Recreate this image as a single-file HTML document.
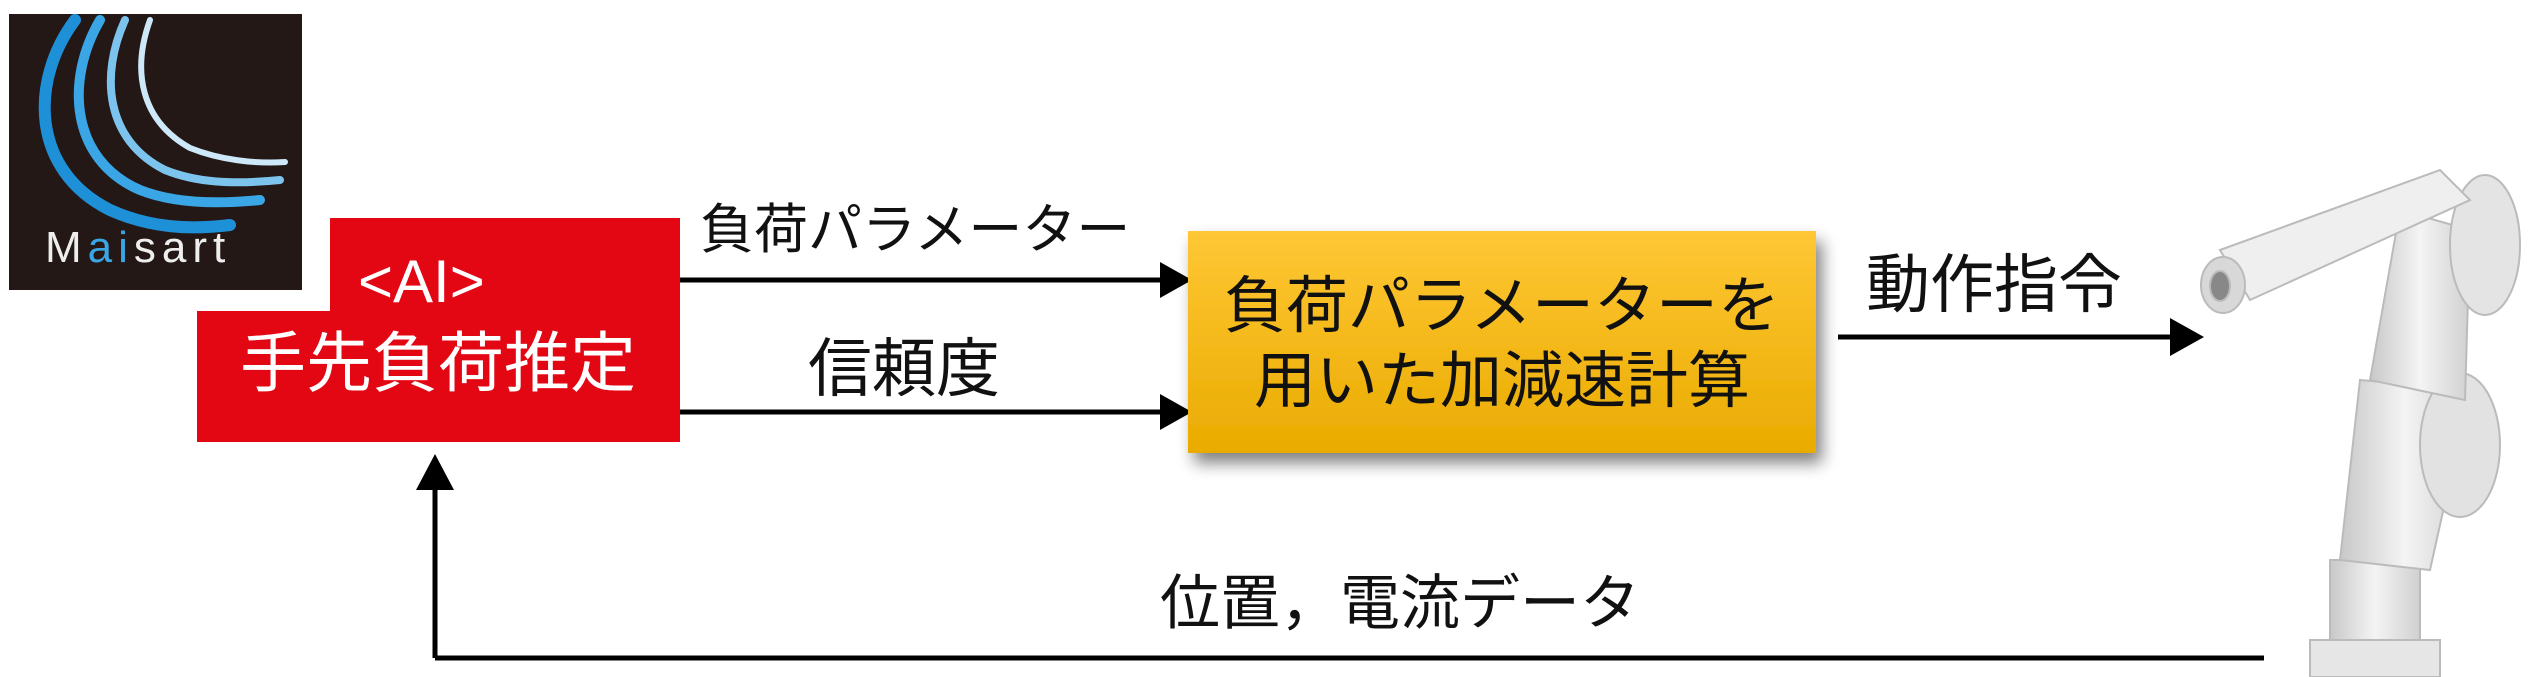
<!DOCTYPE html>
<html><head><meta charset="utf-8"><style>
html,body{margin:0;padding:0;background:#fff;}
body{width:2528px;height:677px;position:relative;overflow:hidden;font-family:"Liberation Sans","Noto Sans CJK JP",sans-serif;}
.t{position:absolute;white-space:nowrap;color:#111;line-height:1;}
</style></head><body>
<svg width="2528" height="677" style="position:absolute;left:0;top:0">
<defs>
<linearGradient id="og" x1="0" y1="0" x2="0" y2="1"><stop offset="0" stop-color="#ffc735"/><stop offset="1" stop-color="#e9ab00"/></linearGradient>
<filter id="sh" x="-10%" y="-10%" width="130%" height="140%"><feGaussianBlur in="SourceAlpha" stdDeviation="8"/><feOffset dx="6" dy="10"/><feComponentTransfer><feFuncA type="linear" slope="0.5"/></feComponentTransfer><feMerge><feMergeNode/><feMergeNode in="SourceGraphic"/></feMerge></filter>
<linearGradient id="rg" x1="0" y1="0" x2="1" y2="0"><stop offset="0" stop-color="#c8c8c8"/><stop offset="0.5" stop-color="#f4f4f4"/><stop offset="1" stop-color="#d0d0d0"/></linearGradient>
</defs>
<rect x="9" y="14" width="293" height="276" fill="#231815"/>
<g fill="none" stroke-linecap="round">
<path d="M75 20 C30 80 30 170 110 210 C150 228 190 230 230 225" stroke="#1e90d8" stroke-width="12"/>
<path d="M100 20 C65 80 70 160 140 190 C170 202 210 205 260 200" stroke="#3aa6e6" stroke-width="10"/>
<path d="M125 20 C100 75 105 140 165 170 C195 182 230 185 280 180" stroke="#7cc4ee" stroke-width="8"/>
<path d="M150 20 C132 70 140 120 190 148 C220 160 255 164 285 162" stroke="#cde8f8" stroke-width="6"/>
</g>
<path d="M330 218 H680 V442 H197 V311 H330 Z" fill="#e30613"/>
<g stroke="#000" stroke-width="5">
<line x1="680" y1="280" x2="1165" y2="280"/>
<line x1="680" y1="412" x2="1165" y2="412"/>
<line x1="1838" y1="337" x2="2175" y2="337"/>
<line x1="435" y1="658" x2="2264" y2="658"/>
<line x1="435" y1="658" x2="435" y2="480"/>
</g>
<g fill="#000">
<polygon points="1160,262 1192,280 1160,298"/>
<polygon points="1160,394 1192,412 1160,430"/>
<polygon points="2170,318 2204,337 2170,356"/>
<polygon points="416,490 435,454 454,490"/>
</g>
<rect x="1188" y="231" width="628" height="222" fill="url(#og)" filter="url(#sh)"/>
<g stroke="#bbb" stroke-width="2">
<polygon points="2330,560 2420,560 2420,660 2330,650" fill="url(#rg)"/>
<polygon points="2310,640 2440,640 2440,677 2310,677" fill="#e6e6e6"/>
<polygon points="2360,380 2470,390 2430,570 2340,560" fill="url(#rg)"/>
<ellipse cx="2460" cy="445" rx="40" ry="72" fill="#e2e2e2"/>
<polygon points="2400,210 2470,230 2465,400 2370,380" fill="url(#rg)"/>
<ellipse cx="2485" cy="245" rx="35" ry="70" fill="#e4e4e4"/>
<polygon points="2220,250 2440,170 2470,200 2250,300" fill="#efefef"/>
<ellipse cx="2223" cy="285" rx="22" ry="28" fill="#d8d8d8"/>
<ellipse cx="2220" cy="286" rx="10" ry="15" fill="#888"/>
</g>
</svg>
<div class="t" style="left:45px;top:226px;font-size:44px;color:#eee;letter-spacing:6px;">M<span style="color:#3aa6e6">ai</span>sart</div>
<div class="t" style="left:358px;top:252px;font-size:60px;color:#fff;">&lt;AI&gt;</div>
<div class="t" style="left:240px;top:330px;font-size:66px;color:#fff;">手先負荷推定</div>
<div class="t" style="left:700px;top:203px;font-size:54px;">負荷パラメーター</div>
<div class="t" style="left:808px;top:337px;font-size:64px;">信頼度</div>
<div class="t" style="left:1188px;top:276px;width:628px;text-align:center;font-size:62px;">負荷パラメーターを</div>
<div class="t" style="left:1188px;top:351px;width:628px;text-align:center;font-size:62px;">用いた加減速計算</div>
<div class="t" style="left:1866px;top:253px;font-size:64px;">動作指令</div>
<div class="t" style="left:1160px;top:574px;font-size:60px;">位置，電流データ</div>
</body></html>
